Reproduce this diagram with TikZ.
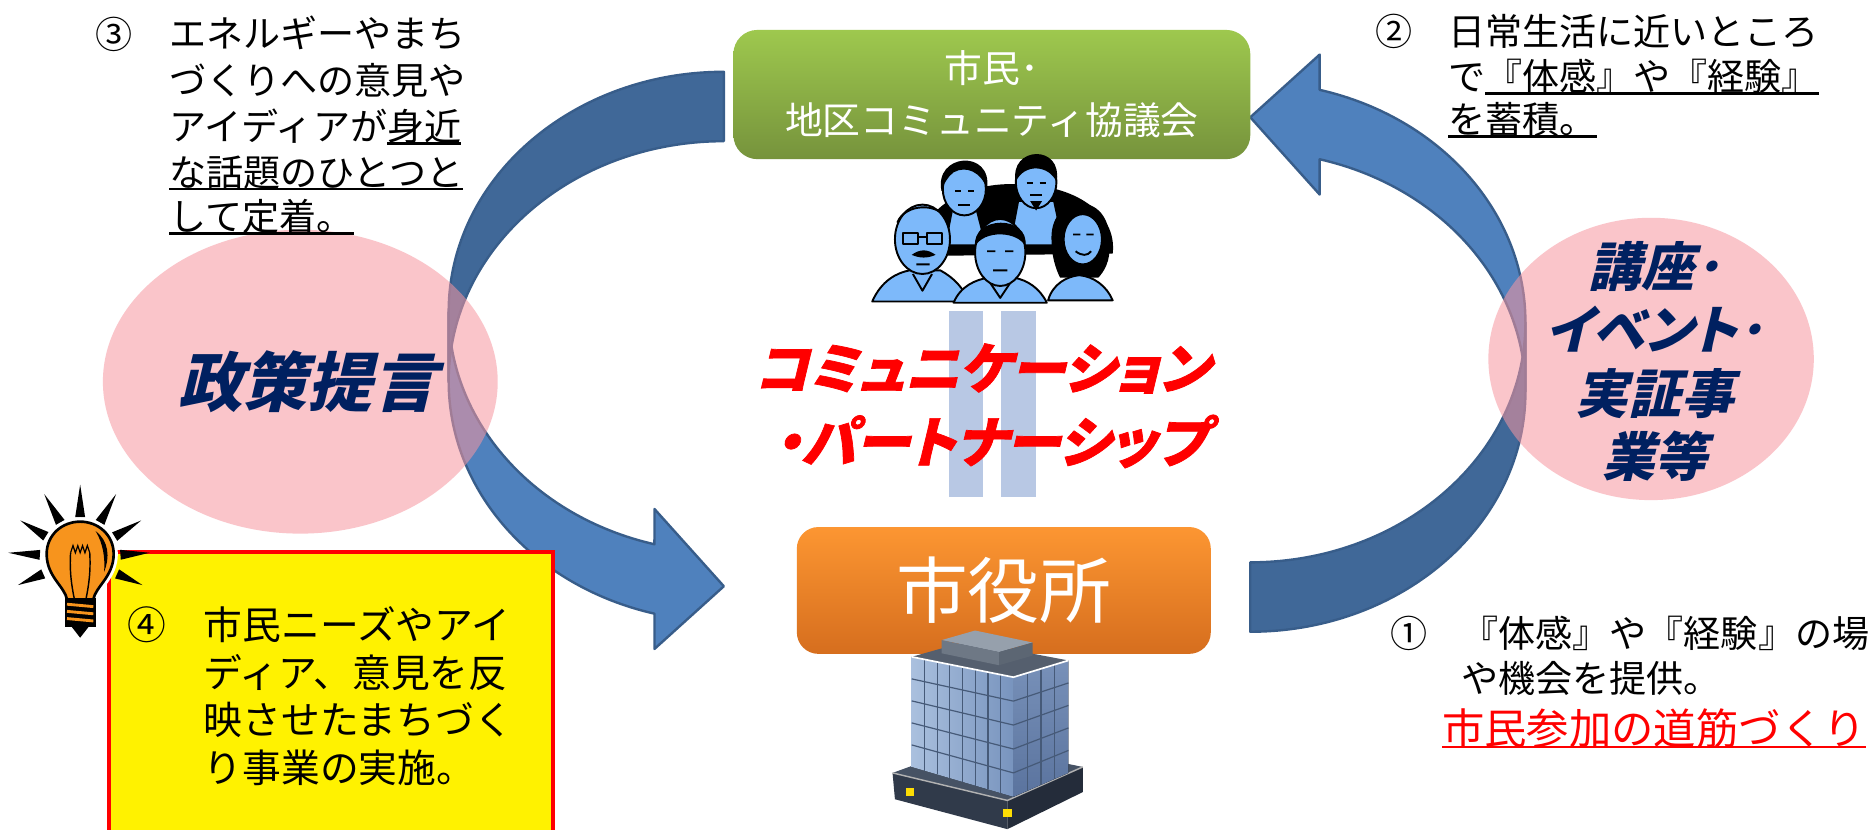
\documentclass[tikz,border=0pt]{standalone}
\usepackage{fontspec}
\setmainfont{Noto Sans CJK JP}
\newfontfamily\jpslant{Noto Sans CJK JP}[FakeSlant=0.24,RawFeature=+palt]
\newfontfamily\jpheavy{Noto Sans CJK JP}[FakeSlant=0.24,FakeBold=1.3,RawFeature=+palt]
\usetikzlibrary{calc}

\definecolor{arrowfront}{RGB}{79,129,189}
\definecolor{arrowback}{RGB}{64,104,152}
\definecolor{arrowline}{RGB}{56,93,138}
\definecolor{pinkfill}{RGB}{247,150,160}
\definecolor{navy}{RGB}{0,32,96}
\definecolor{greentop}{RGB}{158,200,78}
\definecolor{greenbot}{RGB}{118,147,60}
\definecolor{orangetop}{RGB}{252,150,50}
\definecolor{orangebot}{RGB}{214,110,30}
\definecolor{stripe}{RGB}{184,200,228}
\definecolor{skin}{RGB}{125,185,250}
\definecolor{bulb}{RGB}{247,148,29}
\definecolor{glassL}{RGB}{170,192,222}
\definecolor{glassR}{RGB}{120,148,190}
\definecolor{sideT}{RGB}{120,145,185}
\definecolor{sideB}{RGB}{90,115,158}
\definecolor{towertop}{RGB}{85,95,110}
\definecolor{mullion}{RGB}{70,90,120}
\definecolor{rooftop}{RGB}{150,160,172}
\definecolor{roofL}{RGB}{110,120,133}
\definecolor{roofR}{RGB}{92,102,115}
\definecolor{podtop}{RGB}{70,82,100}
\definecolor{podL}{RGB}{48,58,74}
\definecolor{podR}{RGB}{36,44,58}

% underline drawn as a rule just under the baseline
\newcommand\jul[1]{\leavevmode\setbox0\hbox{#1}\rlap{\rule[-1.7pt]{\wd0}{1.1pt}}\box0}

% curved band arrow: darker back half, lighter front half ending in the head
\newcommand\bandarrow{%
  \path[fill=arrowfront, draw=arrowline, line width=1pt, line join=round]
    (375,260.7) arc[start angle=180,end angle=104.61,x radius=230,y radius=200.7]
    -- (547,425.4) -- (605,490) -- (547,542.4) -- (547,512.9)
    arc[start angle=104.61,end angle=180,x radius=230,y radius=200.7] -- cycle;
  \path[fill=arrowback, draw=arrowline, line width=1pt, line join=round]
    (605,60) arc[start angle=270,end angle=180,x radius=230,y radius=200.7]
    -- (375,318.7) arc[start angle=180,end angle=270,x radius=230,y radius=200.7] -- cycle;
}

\tikzset{
  body/.style={font=\fontsize{15.5pt}{19pt}\selectfont, inner sep=0pt, anchor=base west},
  num/.style={font=\fontsize{15.5pt}{19pt}\selectfont, inner sep=0pt},
  boxtext/.style={font=\fontsize{16.2pt}{19pt}\selectfont, inner sep=0pt, anchor=base west},
  pinkdisc/.style={fill=pinkfill, fill opacity=0.55},
  bluetitle/.style={text=navy, inner sep=0pt, align=center},
  redtitle/.style={text=red, inner sep=0pt, font=\jpheavy\bfseries\fontsize{23pt}{23pt}\selectfont},
  councilbox/.style={rounded corners=10pt, top color=greentop, bottom color=greenbot,
    minimum width=216pt, minimum height=54pt, text=white, align=center, inner sep=0pt,
    font=\fontsize{15.8pt}{21.75pt}\selectfont},
  hallbox/.style={rounded corners=9pt, top color=orangetop, bottom color=orangebot,
    minimum width=173pt, minimum height=53pt, text=white, inner sep=0pt,
    font=\fontsize{30pt}{30pt}\selectfont},
  notebox/.style={draw=red, fill=yellow, line width=1.85pt, minimum width=185.5pt,
    minimum height=125.5pt, inner sep=0pt},
  stripebar/.style={fill=stripe, minimum width=14.5pt, minimum height=77.5pt, inner sep=0pt},
  clip/.style={line width=0.8pt, draw=black, line join=round},
}

\begin{document}
\begin{tikzpicture}[x=0.5pt,y=-0.5pt]
\useasboundingbox[fill=white] (0,0) rectangle (1568,693);

% ---- the two curved arrows forming the cycle
\bandarrow
\begin{scope}[rotate around={180:(825,294)}]
  \bandarrow
\end{scope}

% ---- pink discs
\fill[pinkdisc] (251,319) ellipse[x radius=165, y radius=127];
\fill[pinkdisc] (1380,300) ellipse[x radius=136, y radius=118];
\node[bluetitle, font=\jpslant\bfseries\fontsize{27pt}{27pt}\selectfont] (policy) at (257,319) {政策提言};
\node[bluetitle, font=\jpslant\bfseries\fontsize{22pt}{26.5pt}\selectfont] (events) at (1383,302)
  {講座･\\イベント･\\実証事\\業等};

% ---- partnership bars and title
\node[stripebar] (barL) at (807.5,337.5) {};
\node[stripebar] (barR) at (851,337.5) {};
\node[redtitle] (comm) at (821,308) {コミュニケーション};
\node[redtitle] (part) at (828,369) {・パートナーシップ};

% ---- council box and group of citizens
\node[councilbox] (council) at (829,79) {市民･\\地区コミュニティ協議会};
\begin{scope}[clip]
  \fill[black] (768,205) .. controls (772,172) and (810,152) .. (850,154)
    .. controls (898,154) and (934,178) .. (930,212) -- (768,214) -- cycle;
  % back row: woman
  \filldraw[fill=skin] (790,205) -- (796,174) -- (816,174) -- (824,205) -- cycle;
  \filldraw[fill=skin] (806,158) ellipse[x radius=18, y radius=22];
  \fill[black] (787,160) .. controls (780,128) and (830,124) .. (825,158)
    .. controls (820,144) and (808,138) .. (797,144) .. controls (792,148) and (789,153) .. cycle;
  \draw (798,160) -- (803,160) (809,160) -- (814,160) (801,171) -- (811,171);
  % back row: bearded man
  \filldraw[fill=skin] (844,205) -- (851,168) -- (881,168) -- (889,205) -- cycle;
  \filldraw[fill=skin] (866,152) ellipse[x radius=17, y radius=22];
  \fill[black] (849,152) .. controls (843,122) and (889,120) .. (883,152)
    .. controls (877,138) and (856,136) .. cycle;
  \fill[black] (861,168) -- (871,168) -- (866,176) -- cycle;
  \draw (858,153) -- (863,153) (869,153) -- (874,153) (861,163) -- (871,163);
  % old man with glasses
  \filldraw[fill=skin] (729,252) .. controls (737,234) and (750,228) .. (760,226) -- (786,226)
    .. controls (797,232) and (806,241) .. (809,252) -- cycle;
  \filldraw[fill=skin] (771,200) ellipse[x radius=23, y radius=29];
  \draw (750,186) .. controls (756,170) and (786,168) .. (793,186);
  \draw (755,195) rectangle (767,204) (775,195) rectangle (787,204) (767,198) -- (775,198);
  \fill[black] (762,213) .. controls (769,208) and (775,208) .. (782,213)
    .. controls (775,216) and (769,216) .. cycle;
  \draw (766,221) -- (777,221) (763,229) -- (771,243) -- (779,229);
  % woman on the right
  \fill[black] (879,203) .. controls (875,160) and (930,158) .. (927,203)
    .. controls (929,218) and (922,228) .. (918,232) -- (886,232) .. controls (882,224) and (879,213) .. cycle;
  \filldraw[fill=skin] (876,251) .. controls (880,237) and (892,231) .. (902,230)
    .. controls (914,231) and (925,239) .. (930,251) -- cycle;
  \filldraw[fill=skin] (905,200) ellipse[x radius=16, y radius=21];
  \draw (897,196) -- (903,196) (908,196) -- (914,196) (899,210) .. controls (904,214) and (909,214) .. (912,210);
  % young man in front
  \filldraw[fill=skin] (797,253) .. controls (803,239) and (815,234) .. (826,232) -- (847,232)
    .. controls (859,234) and (869,241) .. (875,253) -- cycle;
  \filldraw[fill=skin] (836,211) ellipse[x radius=21, y radius=28];
  \fill[black] (815,206) .. controls (812,180) and (861,179) .. (857,206)
    .. controls (851,193) and (822,192) .. cycle;
  \draw (825,210) -- (832,210) (840,210) -- (847,210) (830,226) -- (842,226)
    (828,237) -- (836,249) -- (844,237);
\end{scope}

% ---- city hall box and building
\node[hallbox] (hall) at (839,493.5) {市役所};
\begin{scope}[line join=round]
  % podium
  \fill[podtop] (746,646) -- (842,669) -- (905,641) -- (812,622) -- cycle;
  \fill[podL] (746,646) -- (842,669) -- (842,693) -- (748,668) -- cycle;
  \fill[podR] (842,669) -- (905,641) -- (905,662) -- (842,693) -- cycle;
  \draw[gray!60, line width=0.6pt] (746,646) -- (842,669) -- (905,641);
  \fill[yellow!80!orange] (757,659) rectangle (764,665);
  \fill[yellow!80!orange] (838,676) rectangle (846,683);
  % glass tower
  \fill[left color=glassL, right color=glassR]
    (762,549) -- (847,566) -- (847,666) -- (762,641) -- cycle;
  \fill[top color=sideT, bottom color=sideB]
    (847,566) -- (893,552) -- (893,646) -- (847,666) -- cycle;
  \fill[towertop] (762,549) -- (847,566) -- (893,552) -- (808,536) -- cycle;
  \foreach \t in {1,...,7}
    \draw[mullion, line width=0.5pt]
      ($(762,549)!\t/8!(847,566)$) -- ($(762,641)!\t/8!(847,666)$);
  \foreach \t in {1,...,3}
    \draw[mullion, line width=0.5pt]
      ($(847,566)!\t/4!(893,552)$) -- ($(847,666)!\t/4!(893,646)$);
  \foreach \s in {1,...,4}
    \draw[mullion, line width=0.5pt]
      ($(762,549)!\s/5!(762,641)$) -- ($(847,566)!\s/5!(847,666)$) -- ($(893,552)!\s/5!(893,646)$);
  \draw[white, line width=0.7pt] (762,549) -- (847,566) -- (893,552);
  % roof block
  \fill[rooftop] (787,535) -- (835,545) -- (863,537) -- (815,527) -- cycle;
  \fill[roofL] (787,535) -- (835,545) -- (835,556) -- (787,546) -- cycle;
  \fill[roofR] (835,545) -- (863,537) -- (863,548) -- (835,556) -- cycle;
\end{scope}

% ---- numbered notes
\node[num] (n3) at (95,29) {③};
\node[body] (t3a) at (141,39.8) {エネルギーやまち};
\node[body] (t3b) at (141,78.8) {づくりへの意見や};
\node[body] (t3c) at (141,117.8) {アイディアが\jul{身近}};
\node[body] (t3d) at (141,155.8) {\jul{な話題のひとつと}};
\node[body] (t3e) at (141,192.8) {\jul{して定着。}};

\node[num] (n2) at (1165,26.5) {②};
\node[body] (t2a) at (1210,38.3) {日常生活に近いところ};
\node[body] (t2b) at (1210,75.8) {で\jul{『体感』や『経験』}};
\node[body] (t2c) at (1210,111.8) {\jul{を蓄積。}};

\node[num] (n1) at (1178,529.5) {①};
\node[body] (t1a) at (1221,540.8) {『体感』や『経験』の場};
\node[body] (t1b) at (1221,578.8) {や機会を提供。};
\node[body, text=red, font=\fontsize{17.7pt}{20pt}\selectfont] (t1c) at (1205,622) {\jul{市民参加の道筋づくり}};

% ---- proposal box with light bulb
\node[notebox] (note) at (276.5,587) {};
\node[num, font=\fontsize{16.2pt}{19pt}\selectfont] (n4) at (123,522) {④};
\node[boxtext] (t4a) at (170,534.3) {市民ニーズやアイ};
\node[boxtext] (t4b) at (170,574.3) {ディア、意見を反};
\node[boxtext] (t4c) at (170,614.3) {映させたまちづく};
\node[boxtext] (t4d) at (170,654.3) {り事業の実施。};

\coordinate (bc) at (67,466);
\foreach \tip in {(67,405),(37,413),(97,413),(17,435),(118,435),(7,462),(125,462),(15,489),(119,489)}
  \fill[black] ($(bc)!17pt!7:\tip$) -- \tip -- ($(bc)!17pt!-7:\tip$) -- cycle;
\path[draw=white, line width=3.5pt, fill=white]
  (56,501) .. controls (54,490) and (39,482) .. (39,463) .. controls (39,447) and (52,436) .. (67,436)
  .. controls (82,436) and (95,447) .. (95,463) .. controls (95,482) and (80,490) .. (78,501) -- cycle;
\path[draw=black, line width=1.1pt, fill=bulb]
  (56,501) .. controls (54,490) and (39,482) .. (39,463) .. controls (39,447) and (52,436) .. (67,436)
  .. controls (82,436) and (95,447) .. (95,463) .. controls (95,482) and (80,490) .. (78,501) -- cycle;
\fill[black] (80,444) .. controls (91,452) and (92,466) .. (87,478) .. controls (88,466) and (86,454) .. cycle;
\draw[black, line width=0.5pt] (59,462) -- (61,456) -- (63,462) -- (65,456) -- (67,462) -- (69,456)
  -- (71,462) -- (73,456) -- (75,462);
\draw[black, line width=0.6pt] (59,462) .. controls (58,478) and (60,490) .. (62,500)
  (75,462) .. controls (76,478) and (74,490) .. (72,500);
\fill[black] (54,500) rectangle (80,524);
\foreach \y in {505,511,517}
  \draw[bulb, line width=1.2pt] (56,\y) -- (78,\y+2);
\fill[black] (60,524) -- (74,524) -- (67,533) -- cycle;
\end{tikzpicture}
\end{document}
